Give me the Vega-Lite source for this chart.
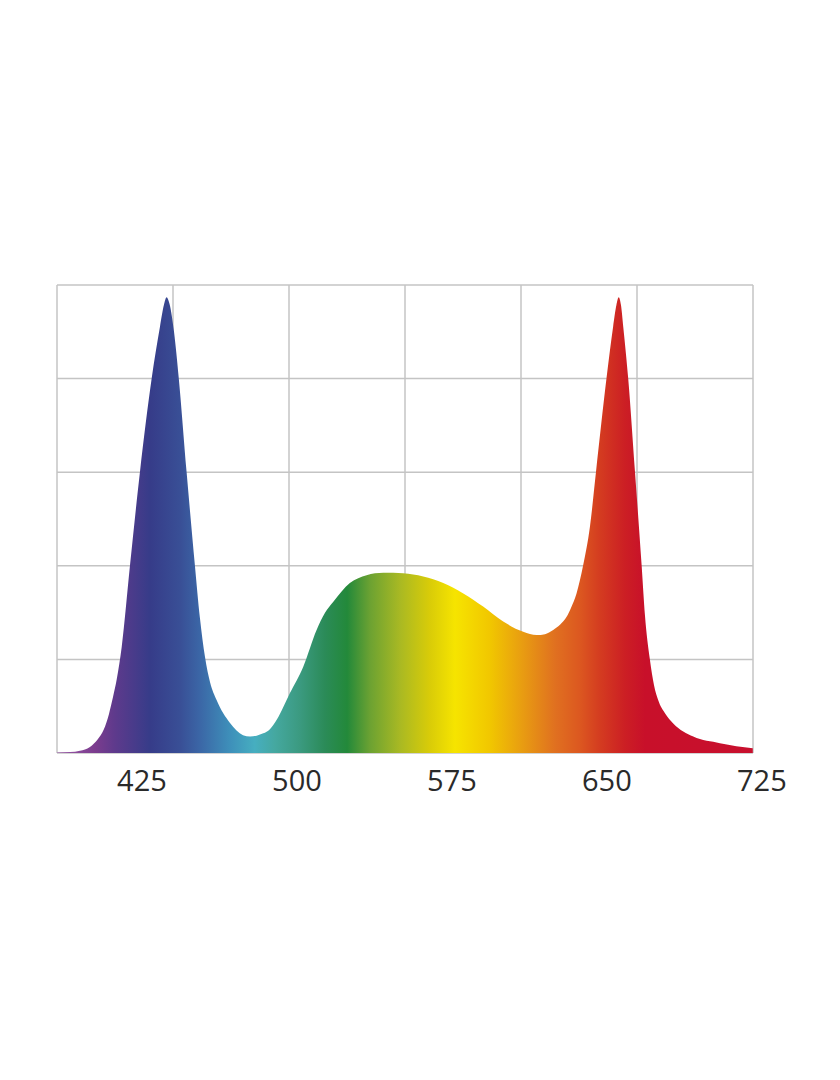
{
  "$schema": "https://vega.github.io/schema/vega-lite/v6.json",
  "width": 696,
  "height": 468,
  "autosize": {"type": "none"},
  "padding": {"left": 57, "top": 285, "right": 87, "bottom": 327},
  "background": "white",
  "config": {"view": {"stroke": null}},
  "datasets": {
    "vgrid": [{"g": 0}, {"g": 1}, {"g": 2}, {"g": 3}, {"g": 4}, {"g": 5}, {"g": 6}],
    "hgrid": [{"h": 0}, {"h": 1}, {"h": 2}, {"h": 3}, {"h": 4}, {"h": 5}],
    "ticks": [
      {"nm": 425, "label": "425"},
      {"nm": 500, "label": "500"},
      {"nm": 575, "label": "575"},
      {"nm": 650, "label": "650"},
      {"nm": 725, "label": "725"}
    ],
    "spectrum": [
      {"nm": 383.9, "v": 0.1},
      {"nm": 390.2, "v": 0.2},
      {"nm": 395.0, "v": 0.5},
      {"nm": 399.8, "v": 1.3},
      {"nm": 403.7, "v": 3.0},
      {"nm": 406.5, "v": 5.0},
      {"nm": 409.0, "v": 8.3},
      {"nm": 411.0, "v": 12.0},
      {"nm": 412.8, "v": 15.8},
      {"nm": 415.2, "v": 22.7},
      {"nm": 419.2, "v": 40.1},
      {"nm": 424.0, "v": 60.0},
      {"nm": 429.7, "v": 80.1},
      {"nm": 433.7, "v": 91.1},
      {"nm": 435.6, "v": 95.7},
      {"nm": 436.9, "v": 97.4},
      {"nm": 438.3, "v": 96.0},
      {"nm": 440.5, "v": 90.0},
      {"nm": 442.8, "v": 80.1},
      {"nm": 446.6, "v": 60.0},
      {"nm": 450.6, "v": 40.1},
      {"nm": 453.0, "v": 29.0},
      {"nm": 455.5, "v": 20.5},
      {"nm": 458.0, "v": 15.0},
      {"nm": 461.1, "v": 11.3},
      {"nm": 467.6, "v": 6.4},
      {"nm": 473.9, "v": 3.8},
      {"nm": 477.3, "v": 3.5},
      {"nm": 480.5, "v": 3.7},
      {"nm": 483.7, "v": 4.2},
      {"nm": 486.9, "v": 5.1},
      {"nm": 490.2, "v": 7.1},
      {"nm": 496.6, "v": 12.8},
      {"nm": 503.0, "v": 18.4},
      {"nm": 509.5, "v": 26.3},
      {"nm": 513.5, "v": 29.9},
      {"nm": 517.6, "v": 32.3},
      {"nm": 525.6, "v": 36.3},
      {"nm": 533.7, "v": 38.0},
      {"nm": 541.8, "v": 38.5},
      {"nm": 551.4, "v": 38.4},
      {"nm": 561.1, "v": 37.7},
      {"nm": 570.8, "v": 36.3},
      {"nm": 580.5, "v": 34.1},
      {"nm": 590.1, "v": 31.3},
      {"nm": 599.8, "v": 28.1},
      {"nm": 609.5, "v": 25.9},
      {"nm": 616.0, "v": 25.2},
      {"nm": 620.0, "v": 25.4},
      {"nm": 624.0, "v": 26.3},
      {"nm": 627.3, "v": 27.4},
      {"nm": 630.5, "v": 29.1},
      {"nm": 632.6, "v": 31.0},
      {"nm": 635.3, "v": 34.1},
      {"nm": 638.5, "v": 40.1},
      {"nm": 641.8, "v": 48.4},
      {"nm": 644.7, "v": 60.0},
      {"nm": 649.8, "v": 80.1},
      {"nm": 653.0, "v": 91.1},
      {"nm": 654.6, "v": 95.7},
      {"nm": 655.7, "v": 97.4},
      {"nm": 656.8, "v": 95.7},
      {"nm": 657.9, "v": 91.1},
      {"nm": 660.3, "v": 80.1},
      {"nm": 663.6, "v": 60.0},
      {"nm": 666.8, "v": 40.1},
      {"nm": 668.4, "v": 29.5},
      {"nm": 670.8, "v": 20.0},
      {"nm": 672.8, "v": 14.5},
      {"nm": 674.8, "v": 11.3},
      {"nm": 678.1, "v": 8.5},
      {"nm": 682.1, "v": 6.3},
      {"nm": 691.8, "v": 3.5},
      {"nm": 704.7, "v": 2.1},
      {"nm": 720.6, "v": 1.0}
    ]
  },
  "layer": [
    {
      "data": {"name": "vgrid"},
      "mark": {"type": "rule", "color": "#c4c4c4", "strokeWidth": 1.5},
      "encoding": {
        "x": {"field": "g", "type": "quantitative", "scale": {"domain": [0, 6], "nice": false}, "axis": null}
      }
    },
    {
      "data": {"name": "hgrid"},
      "mark": {"type": "rule", "color": "#c4c4c4", "strokeWidth": 1.5},
      "encoding": {
        "y": {"field": "h", "type": "quantitative", "scale": {"domain": [0, 5], "nice": false}, "axis": null}
      }
    },
    {
      "data": {"name": "spectrum"},
      "mark": {
        "type": "area",
        "interpolate": "monotone",
        "color": {
          "gradient": "linear",
          "x1": 0, "y1": 0, "x2": 1, "y2": 0,
          "stops": [
            {"offset": 0, "color": "#9a5aa8"},
            {"offset": 0.055, "color": "#7b3c8e"},
            {"offset": 0.083, "color": "#5e3a8c"},
            {"offset": 0.134, "color": "#363c89"},
            {"offset": 0.177, "color": "#394f96"},
            {"offset": 0.205, "color": "#3b66a6"},
            {"offset": 0.249, "color": "#3e90ba"},
            {"offset": 0.284, "color": "#46aec0"},
            {"offset": 0.313, "color": "#45a8a0"},
            {"offset": 0.349, "color": "#3b9a80"},
            {"offset": 0.385, "color": "#2b8b58"},
            {"offset": 0.417, "color": "#23893a"},
            {"offset": 0.45, "color": "#6ca232"},
            {"offset": 0.493, "color": "#a9b923"},
            {"offset": 0.536, "color": "#d9cc08"},
            {"offset": 0.572, "color": "#f6e400"},
            {"offset": 0.622, "color": "#f1c700"},
            {"offset": 0.665, "color": "#e9a010"},
            {"offset": 0.716, "color": "#e07020"},
            {"offset": 0.751, "color": "#dc5820"},
            {"offset": 0.78, "color": "#d43c20"},
            {"offset": 0.816, "color": "#cc1f24"},
            {"offset": 0.845, "color": "#c8102a"},
            {"offset": 1, "color": "#c8102e"}
          ]
        }
      },
      "encoding": {
        "x": {
          "field": "nm",
          "type": "quantitative",
          "scale": {"domain": [383.87, 720.7], "nice": false, "zero": false},
          "axis": null
        },
        "y": {
          "field": "v",
          "type": "quantitative",
          "scale": {"domain": [0, 100], "nice": false},
          "axis": null
        }
      }
    },
    {
      "data": {"name": "ticks"},
      "mark": {
        "type": "text",
        "font": "Open Sans",
        "fontSize": 29,
        "color": "#2a2a2a",
        "align": "center",
        "baseline": "alphabetic",
        "dy": 38,
        "clip": false
      },
      "encoding": {
        "x": {
          "field": "nm",
          "type": "quantitative",
          "scale": {"domain": [383.87, 720.7], "nice": false, "zero": false},
          "axis": null
        },
        "y": {
          "datum": 0,
          "type": "quantitative",
          "scale": {"domain": [0, 100], "nice": false},
          "axis": null
        },
        "text": {"field": "label", "type": "nominal"}
      }
    }
  ],
  "resolve": {"scale": {"x": "independent", "y": "independent"}}
}
